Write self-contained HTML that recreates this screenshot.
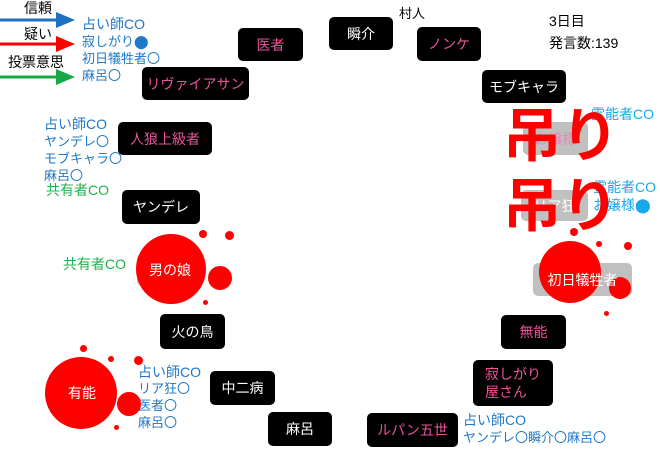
<!DOCTYPE html>
<html><head><meta charset="utf-8"><style>
body{margin:0;width:660px;height:449px;background:#fff;position:relative;overflow:hidden;font-family:"Liberation Sans","Noto Sans CJK JP",sans-serif}
.n{position:absolute;background:#000;border-radius:5px;color:#fff;font-size:14px;display:flex;align-items:center;justify-content:center;box-sizing:border-box}
.p{color:#e8559a}
.g{background:#c0c0c0}
.t{position:absolute;font-size:13px;line-height:17px;white-space:nowrap}
.b{color:#1f78c8}.lb{color:#1aa8e8}.gr{color:#22b04a}
.dot{position:absolute;background:#f00;border-radius:50%}
</style></head><body>
<svg width="660" height="449" style="position:absolute;left:0;top:0">
<line x1="0" y1="20" x2="58" y2="20" stroke="#1f6fc0" stroke-width="3"/><polygon points="56,12 75,20 56,28" fill="#1f6fc0"/>
<line x1="0" y1="44" x2="58" y2="44" stroke="#f00" stroke-width="3"/><polygon points="56,36 75,44 56,52" fill="#f00"/>
<line x1="0" y1="77" x2="58" y2="77" stroke="#18a848" stroke-width="3"/><polygon points="56,69 75,77 56,85" fill="#18a848"/>
</svg>
<div class="t" style="left:24px;top:0;font-size:14px">信頼</div>
<div class="t" style="left:24px;top:26px;font-size:14px">疑い</div>
<div class="t" style="left:8px;top:54px;font-size:14px">投票意思</div>
<div class="t b" style="left:82px;top:16px;font-size:14px">占い師CO</div>
<div class="t b" style="left:82px;top:33px">寂しがり⬤<br>初日犠牲者〇<br>麻呂〇</div>
<div class="t b" style="left:44px;top:116px;font-size:14px">占い師CO</div>
<div class="t b" style="left:44px;top:133px">ヤンデレ〇<br>モブキャラ〇<br>麻呂〇</div>
<div class="t gr" style="left:46px;top:182px;font-size:14px">共有者CO</div>
<div class="t gr" style="left:63px;top:256px;font-size:14px">共有者CO</div>
<div class="t b" style="left:138px;top:364px;font-size:14px">占い師CO</div>
<div class="t b" style="left:138px;top:380px">リア狂〇<br>医者〇<br>麻呂〇</div>
<div class="t b" style="left:463px;top:412px;font-size:14px">占い師CO</div>
<div class="t b" style="left:463px;top:429px">ヤンデレ〇瞬介〇麻呂〇</div>
<div class="t" style="left:399px;top:5px">村人</div>
<div class="t" style="left:549px;top:10px;font-size:14px;line-height:22px">3日目<br>発言数:139</div>
<div class="t lb" style="left:591px;top:106px;font-size:14px">霊能者CO</div>
<div class="t lb" style="left:593px;top:178px;font-size:14px;line-height:18px">霊能者CO<br>お嬢様⬤</div>

<div class="n p" style="left:238px;top:28px;width:65px;height:33px">医者</div>
<div class="n" style="left:329px;top:17px;width:64px;height:33px">瞬介</div>
<div class="n p" style="left:417px;top:27px;width:64px;height:34px">ノンケ</div>
<div class="n" style="left:482px;top:70px;width:84px;height:33px">モブキャラ</div>
<div class="n p" style="left:142px;top:67px;width:107px;height:33px">リヴァイアサン</div>
<div class="n p" style="left:118px;top:122px;width:94px;height:33px">人狼上級者</div>
<div class="n" style="left:122px;top:190px;width:78px;height:34px">ヤンデレ</div>
<div class="n g" style="left:523px;top:122px;width:65px;height:33px;color:#f080b8">お嬢様</div>
<div class="n g" style="left:521px;top:190px;width:67px;height:31px">リア狂</div>
<div class="n g" style="left:137px;top:254px;width:66px;height:32px"></div>
<div class="n g" style="left:533px;top:263px;width:99px;height:33px"></div>

<div class="dot" style="left:136px;top:234px;width:70px;height:70px"></div>
<div class="dot" style="left:208px;top:266px;width:24px;height:24px"></div>
<div class="dot" style="left:199px;top:230px;width:8px;height:8px"></div>
<div class="dot" style="left:225px;top:231px;width:9px;height:9px"></div>
<div class="dot" style="left:203px;top:300px;width:5px;height:5px"></div>
<div class="n" style="left:137px;top:254px;width:66px;height:32px;background:none">男の娘</div>

<div class="dot" style="left:45px;top:357px;width:72px;height:72px"></div>
<div class="dot" style="left:117px;top:392px;width:24px;height:24px"></div>
<div class="dot" style="left:80px;top:345px;width:7px;height:7px"></div>
<div class="dot" style="left:108px;top:356px;width:6px;height:6px"></div>
<div class="dot" style="left:134px;top:356px;width:9px;height:9px"></div>
<div class="dot" style="left:114px;top:425px;width:5px;height:5px"></div>
<div class="n" style="left:50px;top:377px;width:64px;height:32px;background:none">有能</div>

<div class="dot" style="left:539px;top:241px;width:62px;height:62px"></div>
<div class="dot" style="left:609px;top:277px;width:22px;height:22px"></div>
<div class="dot" style="left:570px;top:228px;width:8px;height:8px"></div>
<div class="dot" style="left:596px;top:241px;width:6px;height:6px"></div>
<div class="dot" style="left:624px;top:242px;width:8px;height:8px"></div>
<div class="dot" style="left:604px;top:311px;width:5px;height:5px"></div>
<div class="n" style="left:533px;top:263px;width:99px;height:33px;background:none">初日犠牲者</div>

<div class="n" style="left:160px;top:314px;width:65px;height:35px">火の鳥</div>
<div class="n" style="left:210px;top:371px;width:65px;height:34px">中二病</div>
<div class="n" style="left:268px;top:412px;width:64px;height:34px">麻呂</div>
<div class="n p" style="left:367px;top:413px;width:91px;height:34px">ルパン五世</div>
<div class="n p" style="left:473px;top:360px;width:80px;height:46px;line-height:18px;justify-content:flex-start;padding-left:12px">寂しがり<br>屋さん</div>
<div class="n p" style="left:501px;top:315px;width:65px;height:34px">無能</div>

<div class="t" style="left:503px;top:102px;font-size:58px;line-height:70px;color:#f00;font-weight:bold">吊り<br>吊り</div>
</body></html>
